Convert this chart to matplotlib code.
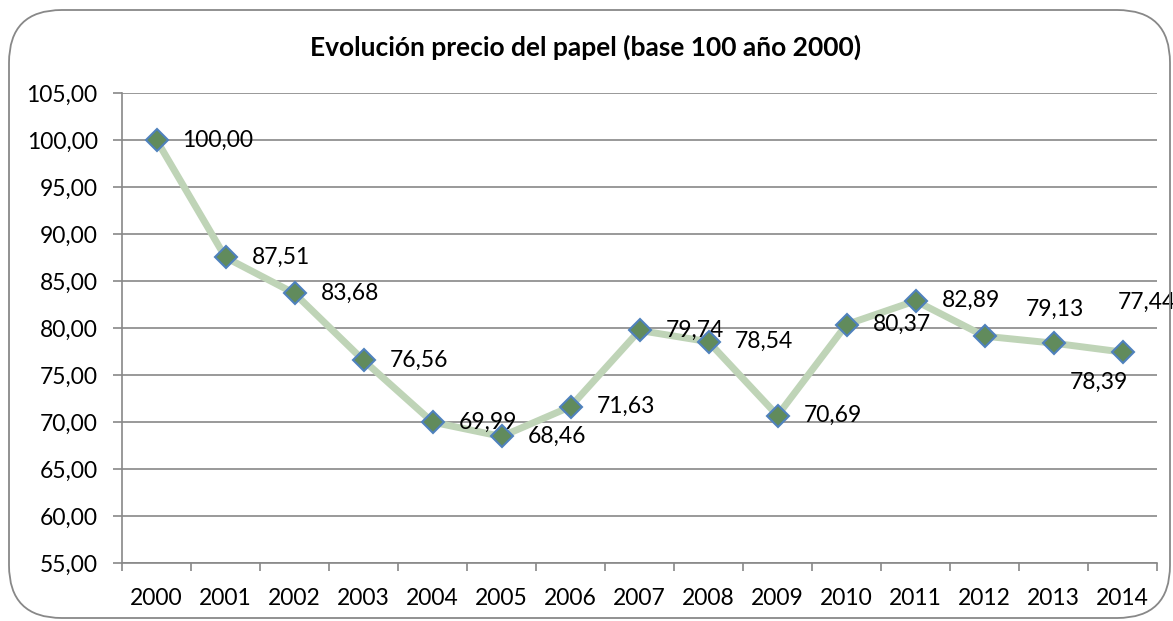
import matplotlib.pyplot as plt
from matplotlib.patches import FancyBboxPatch
from matplotlib.ticker import FixedLocator, FuncFormatter

plt.rcParams['font.family'] = ['Lato', 'DejaVu Sans']

years = ['2000', '2001', '2002', '2003', '2004', '2005', '2006', '2007',
         '2008', '2009', '2010', '2011', '2012', '2013', '2014']
precio = [100.00, 87.51, 83.68, 76.56, 69.99, 68.46, 71.63, 79.74,
          78.54, 70.69, 80.37, 82.89, 79.13, 78.39, 77.44]

# desplazamiento de las etiquetas (pixeles) respecto de cada punto
lab_dx = [26] * 12 + [41, 16, -5]
lab_dy = [0] * 12 + [27, -39, 50]

gris = '#888888'

fig = plt.figure(figsize=(11.73, 6.21), dpi=100)
ax = fig.add_axes([122 / 1173, 1 - 563 / 621, 1035 / 1173, 470 / 621])

x = list(range(len(years)))
ax.plot(x, precio, color='#bfd4b7', lw=5, zorder=3, solid_joinstyle='round')
ax.plot(x, precio, ls='none', marker='D', ms=11, mfc='#618b5c',
        mec='#4f81bd', mew=1.5, zorder=5)

for i, v in enumerate(precio):
    txt = f'{v:.2f}'.replace('.', ',')
    ax.annotate(txt, (i, v), xytext=(lab_dx[i], lab_dy[i]),
                textcoords='offset pixels', ha='left', va='center',
                fontsize=16.5, color='black', zorder=4, annotation_clip=False)

ax.set_xlim(-0.5, len(years) - 0.5)
ax.set_ylim(55, 105)
ax.set_yticks(range(55, 106, 5))
ax.yaxis.set_major_formatter(FuncFormatter(lambda v, p: f'{v:.2f}'.replace('.', ',')))

ax.xaxis.set_major_locator(FixedLocator([i - 0.5 for i in range(len(years) + 1)]))
ax.xaxis.set_minor_locator(FixedLocator(x))
ax.set_xticklabels([''] * (len(years) + 1))
ax.set_xticklabels(years, minor=True)
ax.tick_params(axis='x', which='major', length=6, width=1.2, color=gris, direction='out')
ax.tick_params(axis='x', which='minor', length=0, pad=18, labelsize=16.5)
ax.tick_params(axis='y', length=6.5, width=1.2, color=gris, pad=11, labelsize=16.5)

ax.grid(axis='y', color=gris, lw=1.2, zorder=0)
ax.set_axisbelow(True)
for s in ['top', 'right']:
    ax.spines[s].set_visible(False)
for s in ['left', 'bottom']:
    ax.spines[s].set_color(gris)
    ax.spines[s].set_linewidth(1.2)

fig.text(0.499, 1 - 47 / 621, 'Evolución precio del papel (base 100 año 2000)',
         ha='center', va='center', fontsize=19, fontweight='bold')

borde = FancyBboxPatch((9 / 1173, 3 / 621), 1161 / 1173, 608 / 621,
                       boxstyle='round,pad=0,rounding_size=0.045',
                       transform=fig.transFigure, fill=False,
                       ec=gris, lw=1.3, mutation_aspect=1173 / 621)
fig.patches.append(borde)

fig.savefig('out.png', dpi=100)
